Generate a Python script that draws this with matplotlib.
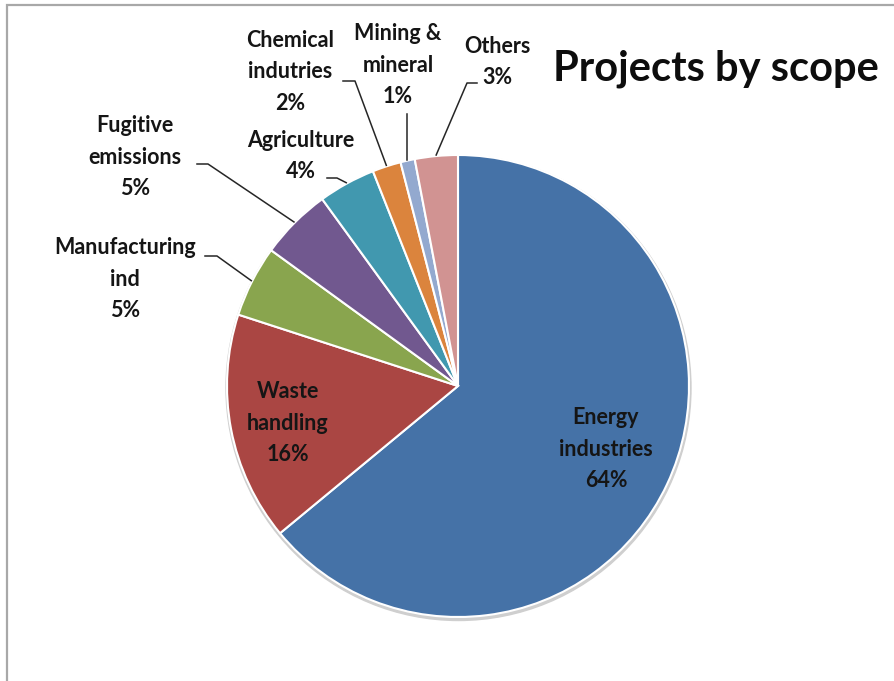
import matplotlib
matplotlib.use("Agg")
import numpy as np
import matplotlib.pyplot as plt
from matplotlib.patches import Circle, Rectangle

W, H = 894, 681

scopes = ["Energy\nindustries", "Waste\nhandling", "Manufacturing\nind",
          "Fugitive\nemissions", "Agriculture", "Chemical\nindutries",
          "Mining &\nmineral", "Others"]
shares = [64, 16, 5, 5, 4, 2, 1, 3]
colors = ["#4572A7", "#AA4643", "#89A54E", "#71588F",
          "#4198AF", "#DB843D", "#93A9CF", "#D19392"]

plt.rcParams['font.family'] = ['Lato', 'DejaVu Sans']

fig = plt.figure(figsize=(W / 100, H / 100), dpi=100)
ax = fig.add_axes([0, 0, 1, 1])


def px(x, y):
    # screen pixel (y down) -> data coords (y up)
    return x, H - y


cx, cy = px(458, 386)
R = 231

wedges, _ = ax.pie(shares, colors=colors, startangle=90, counterclock=False,
                   center=(cx, cy), radius=R,
                   wedgeprops=dict(edgecolor="white", linewidth=1.5))
for w in wedges:
    w.set_zorder(2)

# pie() resets the limits, so fix them afterwards
ax.set_xlim(0, W)
ax.set_ylim(0, H)
ax.set_aspect('equal')
ax.axis('off')

# outer frame of the chart area
ax.add_patch(Rectangle(px(7, 700), 920, 695, fill=False,
                       edgecolor="#a8a8a8", lw=1.6, zorder=0))

# soft shadow under the pie
ax.add_patch(Circle((cx + 0.5, cy - 2), R + 1.5, color="#cfcfcf", zorder=1))

lab_kw = dict(ha="center", va="center", fontsize=15.5, fontweight="bold",
              color="#151515", linespacing=1.6, zorder=5)

# label centre and elbow of the leader line (None for labels inside the pie)
layout = {
    0: ((606, 449), None),
    1: ((288, 423), None),
    2: ((125, 279), (205, 217, 256)),
    3: ((135, 157), (197, 208, 164)),
    4: ((301, 156), (327, 337, 178)),
    5: ((290, 72), (343, 355, 81)),
    6: ((398, 65), None),
    7: ((497, 62), (477, 467, 83)),
}

cum = np.cumsum([0] + shares)
total = float(sum(shares))
for i, (name, val) in enumerate(zip(scopes, shares)):
    (tx, ty), elbow = layout[i]
    ax.text(*px(tx, ty), f"{name}\n{val}%", **lab_kw)
    if i < 2:
        continue
    mid = 90 - 360 * (cum[i] + val / 2) / total
    ex = cx + (R + 1) * np.cos(np.radians(mid))
    ey = cy + (R + 1) * np.sin(np.radians(mid))
    if elbow is None:
        # straight drop from the label
        ax.plot([ex, ex], [ey, H - 114], color="#262626", lw=1.1, zorder=4)
    else:
        x0, x1, yy = elbow
        ax.plot([x0, x1, ex], [H - yy, H - yy, ey], color="#262626",
                lw=1.1, zorder=4)

ax.text(*px(553, 69), "Projects by scope", ha="left", va="center",
        fontsize=30, fontweight="bold", color="#0d0d0d", zorder=5)

fig.savefig("out.png", dpi=100)
